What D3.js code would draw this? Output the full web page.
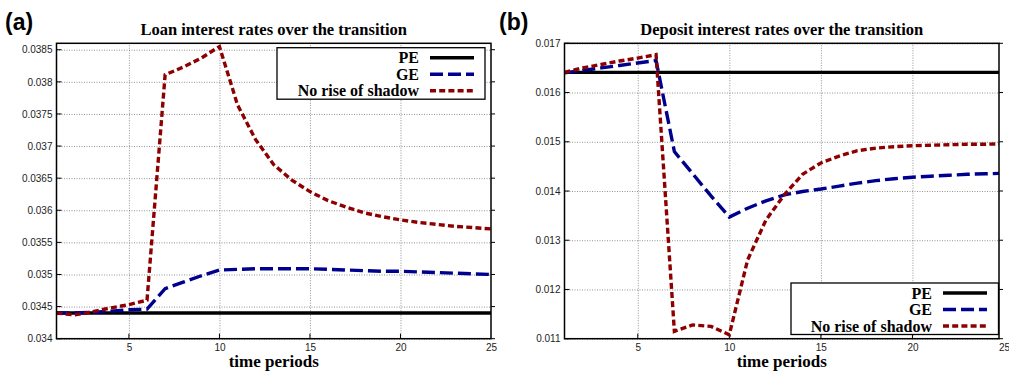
<!DOCTYPE html>
<html>
<head>
<meta charset="utf-8">
<script src="https://cdn.jsdelivr.net/npm/d3@7"></script>
<style>
  body { margin: 0; background: #fff; }
  svg { display: block; }
  .tick-label { font-family: "Liberation Sans", Arial, sans-serif; font-size: 10px; fill: #222; }
  .serif-bold { font-family: "Liberation Serif", "Times New Roman", serif; font-weight: bold; }
</style>
</head>
<body>
<svg id="chart" width="1009" height="372"></svg>
<script>
// * data
const periods = [1, 2, 3, 4, 5, 6, 7, 8, 9, 10, 11, 12, 13, 14, 15, 16, 17, 18, 19, 20, 21, 22, 23, 24, 25];
const xTicks = [5, 10, 15, 20, 25];

const loanPE = [0.0344, 0.0344, 0.0344, 0.0344, 0.0344, 0.0344, 0.0344, 0.0344, 0.0344, 0.0344, 0.0344, 0.0344, 0.0344,
  0.0344, 0.0344, 0.0344, 0.0344, 0.0344, 0.0344, 0.0344, 0.0344, 0.0344, 0.0344, 0.0344, 0.0344];
const loanGE = [0.0344, 0.0344, 0.03441, 0.03443, 0.03445, 0.03446, 0.03478, 0.03488, 0.03498, 0.03507, 0.03508, 0.03509, 0.03509,
  0.03509, 0.03509, 0.03508, 0.03507, 0.03506, 0.03505, 0.03505, 0.03504, 0.03503, 0.03502, 0.03501, 0.035];
const loanNoRise = [0.0344, 0.03437, 0.03442, 0.03448, 0.03453, 0.0346, 0.03811, 0.03823, 0.03837, 0.03855, 0.03764, 0.0371, 0.03671,
  0.03647, 0.03629, 0.03615, 0.03605, 0.03596, 0.0359, 0.03585, 0.03581, 0.03578, 0.03575, 0.03573, 0.03571];
const loanTicks = [0.034, 0.0345, 0.035, 0.0355, 0.036, 0.0365, 0.037, 0.0375, 0.038, 0.0385];

const depositPE = [0.01641, 0.01641, 0.01641, 0.01641, 0.01641, 0.01641, 0.01641, 0.01641, 0.01641, 0.01641, 0.01641, 0.01641, 0.01641,
  0.01641, 0.01641, 0.01641, 0.01641, 0.01641, 0.01641, 0.01641, 0.01641, 0.01641, 0.01641, 0.01641, 0.01641];
const depositGE = [0.0164, 0.01645, 0.0165, 0.01655, 0.0166, 0.01665, 0.0148, 0.01435, 0.0139, 0.01347, 0.01365, 0.0138, 0.01392,
  0.01399, 0.01404, 0.0141, 0.01416, 0.01421, 0.01425, 0.01428, 0.0143, 0.01432, 0.01434, 0.01435, 0.01436];
const depositNoRise = [0.01641, 0.0165, 0.01657, 0.01664, 0.0167, 0.01677, 0.01115, 0.01128, 0.01125, 0.01108, 0.0126, 0.01341, 0.01392,
  0.01434, 0.01457, 0.01471, 0.01482, 0.01487, 0.0149, 0.01492, 0.01493, 0.01494, 0.01495, 0.01495, 0.01496];
const depositTicks = [0.011, 0.012, 0.013, 0.014, 0.015, 0.016, 0.017];

const seriesNames = ['PE', 'GE', 'No rise of shadow'];
const seriesColors = ['#000000', '#00008e', '#8e0000'];
const seriesDash = [null, '13,5', '6,3.2'];

const svg = d3.select('#chart');

function drawPanel(cfg) {
  const x = d3.scaleLinear().domain([1, 25]).range([cfg.left, cfg.xEnd]);
  const y = d3.scaleLinear().domain(cfg.yDomain).range([cfg.bottom, cfg.top]);
  const g = svg.append('g');

  const clipId = 'clip-' + cfg.id;
  g.append('clipPath').attr('id', clipId)
    .append('rect')
    .attr('x', cfg.left).attr('y', cfg.top)
    .attr('width', cfg.right - cfg.left).attr('height', cfg.bottom - cfg.top);

  // grid
  g.append('g')
    .attr('transform', `translate(${cfg.left},0)`)
    .call(d3.axisLeft(y).tickValues(cfg.yTicks).tickSize(-(cfg.right - cfg.left)).tickFormat(''))
    .call((s) => s.select('.domain').remove())
    .selectAll('line').attr('stroke', '#777').attr('stroke-width', 0.8).attr('stroke-dasharray', '1,1.5');
  g.append('g')
    .attr('transform', `translate(0,${cfg.bottom})`)
    .call(d3.axisBottom(x).tickValues(xTicks.filter((t) => x(t) < cfg.right - 2)).tickSize(-(cfg.bottom - cfg.top)).tickFormat(''))
    .call((s) => s.select('.domain').remove())
    .selectAll('line').attr('stroke', '#777').attr('stroke-width', 0.8).attr('stroke-dasharray', '1,1.5');

  // tick labels
  const yAxis = g.append('g')
    .attr('transform', `translate(${cfg.left},0)`)
    .call(d3.axisLeft(y).tickValues(cfg.yTicks).tickSize(0).tickPadding(4).tickFormat((d) => String(+d.toFixed(4))));
  yAxis.select('.domain').remove();
  yAxis.selectAll('text').attr('class', 'tick-label').attr('font-family', null).attr('font-size', null);

  const xAxis = g.append('g')
    .attr('transform', `translate(0,${cfg.bottom})`)
    .call(d3.axisBottom(x).tickValues(xTicks).tickSize(0).tickPadding(5));
  xAxis.select('.domain').remove();
  xAxis.selectAll('text').attr('class', 'tick-label').attr('font-family', null).attr('font-size', null);

  // small ticks
  const tk = g.append('g').attr('stroke', '#000').attr('stroke-width', 1);
  cfg.yTicks.forEach((t) => {
    tk.append('line').attr('x1', cfg.left).attr('x2', cfg.left + 5).attr('y1', y(t)).attr('y2', y(t));
    tk.append('line').attr('x1', cfg.right).attr('x2', cfg.right + 4).attr('y1', y(t)).attr('y2', y(t));
  });
  xTicks.filter((t) => x(t) < cfg.right - 2).forEach((t) => {
    tk.append('line').attr('x1', x(t)).attr('x2', x(t)).attr('y1', cfg.bottom).attr('y2', cfg.bottom - 5);
  });

  // lines
  const line = d3.line().x((d, i) => x(periods[i])).y((d) => y(d));
  const lines = g.append('g').attr('clip-path', `url(#${clipId})`);
  cfg.series.forEach((vals, i) => {
    lines.append('path')
      .datum(vals)
      .attr('d', line)
      .attr('fill', 'none')
      .attr('stroke', seriesColors[i])
      .attr('stroke-width', 3.4)
      .attr('stroke-dasharray', seriesDash[i]);
  });

  // frame
  g.append('rect')
    .attr('x', cfg.left).attr('y', cfg.top)
    .attr('width', cfg.right - cfg.left).attr('height', cfg.bottom - cfg.top)
    .attr('fill', 'none').attr('stroke', '#000').attr('stroke-width', 1.5);

  // titles
  g.append('text').attr('class', 'serif-bold')
    .attr('x', (cfg.left + cfg.right) / 2 + cfg.titleShift).attr('y', 35)
    .attr('text-anchor', 'middle').attr('font-size', 16.5)
    .text(cfg.title);
  g.append('text').attr('class', 'serif-bold')
    .attr('x', (cfg.left + cfg.right) / 2).attr('y', 367)
    .attr('text-anchor', 'middle').attr('font-size', 17)
    .text('time periods');
  g.append('text')
    .attr('x', cfg.tagX).attr('y', 30)
    .attr('font-family', '"Liberation Sans", Arial, sans-serif')
    .attr('font-weight', 'bold').attr('font-size', 23)
    .text(cfg.tag);

  // legend
  const lg = cfg.legend;
  g.append('rect')
    .attr('x', lg.x).attr('y', lg.y).attr('width', lg.w).attr('height', lg.h)
    .attr('fill', '#fff').attr('stroke', '#000').attr('stroke-width', 1.3);
  seriesNames.forEach((name, i) => {
    const cy = lg.y + 10 + i * 16.5;
    g.append('text').attr('class', 'serif-bold')
      .attr('x', lg.textRight).attr('y', cy + 5.5)
      .attr('text-anchor', 'end').attr('font-size', 16)
      .text(name);
    g.append('line')
      .attr('x1', lg.textRight + 11).attr('x2', lg.textRight + 55)
      .attr('y1', cy).attr('y2', cy)
      .attr('stroke', seriesColors[i]).attr('stroke-width', 3.4)
      .attr('stroke-dasharray', seriesDash[i]);
  });
}

drawPanel({
  id: 'a', tag: '(a)', tagX: 5, titleShift: 0,
  title: 'Loan interest rates over the transition',
  left: 56.5, right: 491, xEnd: 491, top: 43.3, bottom: 338.7,
  yDomain: [0.034, 0.0386], yTicks: loanTicks,
  series: [loanPE, loanGE, loanNoRise],
  legend: { x: 277, y: 47.7, w: 208, h: 51.5, textRight: 419 }
});

drawPanel({
  id: 'b', tag: '(b)', tagX: 499, titleShift: 0,
  title: 'Deposit interest rates over the transition',
  left: 564.5, right: 999, xEnd: 1004, top: 43.3, bottom: 338.7,
  yDomain: [0.011, 0.017], yTicks: depositTicks,
  series: [depositPE, depositGE, depositNoRise],
  legend: { x: 791, y: 283, w: 207.5, h: 51.5, textRight: 932 }
});
</script>
</body>
</html>
